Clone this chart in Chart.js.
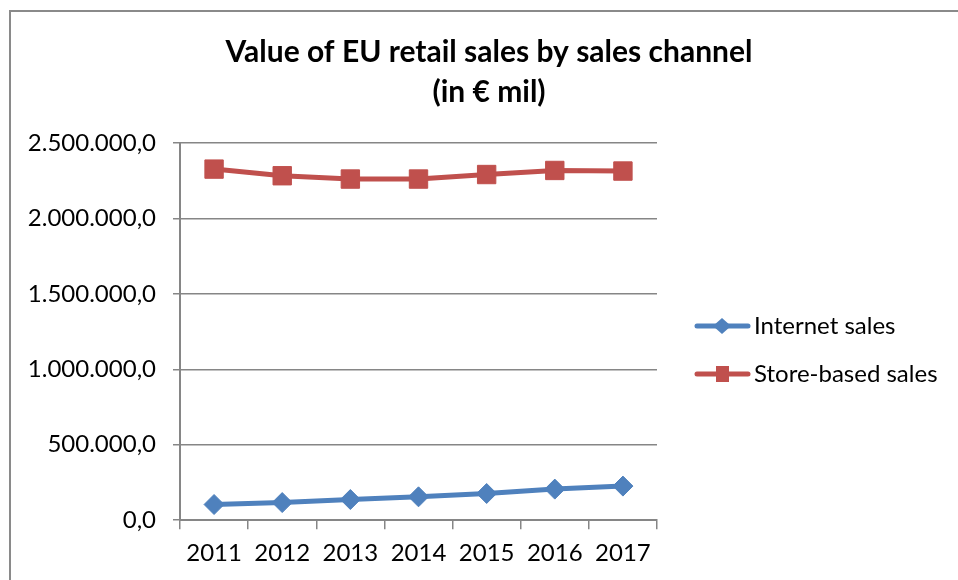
<!DOCTYPE html>
<html>
<head>
<meta charset="utf-8">
<script src="https://cdn.jsdelivr.net/npm/chart.js@4/dist/chart.umd.min.js"></script>
<style>
html, body { margin: 0; padding: 0; background: #fff; }
#wrap { width: 958px; height: 580px; }
</style>
</head>
<body>
<div id="wrap"><canvas id="salesChart" width="958" height="580"></canvas></div>
<script>
// data (values in € mil)
const years = ['2011', '2012', '2013', '2014', '2015', '2016', '2017'];
const internetSales = [104000, 117000, 137000, 155000, 177000, 206000, 226000];
const storeSales = [2327000, 2283000, 2261000, 2261000, 2291000, 2318000, 2314000];
const seriesNames = ['Internet sales', 'Store-based sales'];
const yTicks = [0, 500000, 1000000, 1500000, 2000000, 2500000];
const titleLines = ['Value of EU retail sales by sales channel', '(in € mil)'];

const FONT = 'Lato, "Open Sans", sans-serif';
const BLUE = '#4F81BD';
const RED = '#C0504D';
const GRID = '#868686';

// 2500000 -> "2.500.000,0"
function formatEuro(v) {
    const whole = Math.round(v).toString().replace(/\B(?=(\d{3})+(?!\d))/g, '.');
    return whole + ',0';
}

// frame, title and the side legend
const decorPlugin = {
    id: 'decor',
    beforeDraw(chart) {
        const ctx = chart.ctx;
        ctx.save();
        ctx.fillStyle = '#fff';
        ctx.fillRect(0, 0, chart.width, chart.height);
        ctx.strokeStyle = '#8a8a8a';
        ctx.lineWidth = 2;
        ctx.beginPath();
        ctx.moveTo(10, chart.height);
        ctx.lineTo(10, 11);
        ctx.lineTo(chart.width, 11);
        ctx.stroke();
        ctx.restore();
    },
    afterDraw(chart) {
        const ctx = chart.ctx;
        ctx.save();
        ctx.fillStyle = '#000';
        ctx.textAlign = 'center';
        ctx.textBaseline = 'middle';
        ctx.font = 'bold 30px ' + FONT;
        ctx.fillText(titleLines[0], 489, 52);
        ctx.fillText(titleLines[1], 489, 92);

        // legend: line with marker, then label
        const rows = [326, 374];
        chart.data.datasets.forEach((ds, i) => {
            const y = rows[i];
            ctx.strokeStyle = ds.borderColor;
            ctx.lineWidth = 5;
            ctx.lineCap = 'round';
            ctx.beginPath();
            ctx.moveTo(697, y);
            ctx.lineTo(748, y);
            ctx.stroke();
            ctx.fillStyle = ds.borderColor;
            if (ds.pointStyle === 'rectRot') {
                ctx.beginPath();
                ctx.moveTo(722, y - 8);
                ctx.lineTo(731, y);
                ctx.lineTo(722, y + 8);
                ctx.lineTo(713, y);
                ctx.closePath();
                ctx.fill();
            } else {
                ctx.fillRect(716, y - 8, 13, 16);
            }
            ctx.fillStyle = '#000';
            ctx.textAlign = 'left';
            ctx.font = '24px ' + FONT;
            ctx.fillText(ds.label, 754, y);
        });
        ctx.restore();
    }
};

function initSalesChart() {
    const ctx = document.getElementById('salesChart').getContext('2d');
    new Chart(ctx, {
        type: 'line',
        data: {
            labels: years,
            datasets: [{
                label: seriesNames[0],
                data: internetSales,
                borderColor: BLUE,
                backgroundColor: BLUE,
                borderWidth: 5,
                pointStyle: 'rectRot',
                pointRadius: 10,
                pointBorderWidth: 1,
                pointBackgroundColor: BLUE,
                pointBorderColor: BLUE,
                tension: 0
            }, {
                label: seriesNames[1],
                data: storeSales,
                borderColor: RED,
                backgroundColor: RED,
                borderWidth: 5,
                pointStyle: 'rect',
                pointRadius: 13,
                pointBorderWidth: 1,
                pointBackgroundColor: RED,
                pointBorderColor: RED,
                tension: 0
            }]
        },
        options: {
            responsive: false,
            animation: false,
            devicePixelRatio: 1,
            layout: {
                padding: { left: 20, right: 301, top: 143, bottom: 2 }
            },
            plugins: {
                legend: { display: false },
                title: { display: false },
                tooltip: { enabled: false }
            },
            scales: {
                x: {
                    offset: true,
                    grid: {
                        offset: true,
                        drawOnChartArea: false,
                        drawTicks: true,
                        tickLength: 9,
                        color: GRID,
                        lineWidth: 1.5
                    },
                    border: { color: GRID, width: 2 },
                    ticks: {
                        color: '#000',
                        padding: 10,
                        maxRotation: 0,
                        font: { family: FONT, size: 24 }
                    }
                },
                y: {
                    min: 0,
                    max: 2500000,
                    afterBuildTicks(scale) {
                        scale.ticks = yTicks.map(v => ({ value: v }));
                    },
                    afterFit(scale) {
                        scale.width = 160;
                    },
                    grid: {
                        color: GRID,
                        lineWidth: 1.5,
                        tickLength: 7
                    },
                    border: { color: GRID, width: 2 },
                    ticks: {
                        color: '#000',
                        padding: 17,
                        font: { family: FONT, size: 24 },
                        callback: v => formatEuro(v)
                    }
                }
            }
        },
        plugins: [decorPlugin]
    });
}

document.addEventListener('DOMContentLoaded', () => {
    initSalesChart();
});
</script>
</body>
</html>
